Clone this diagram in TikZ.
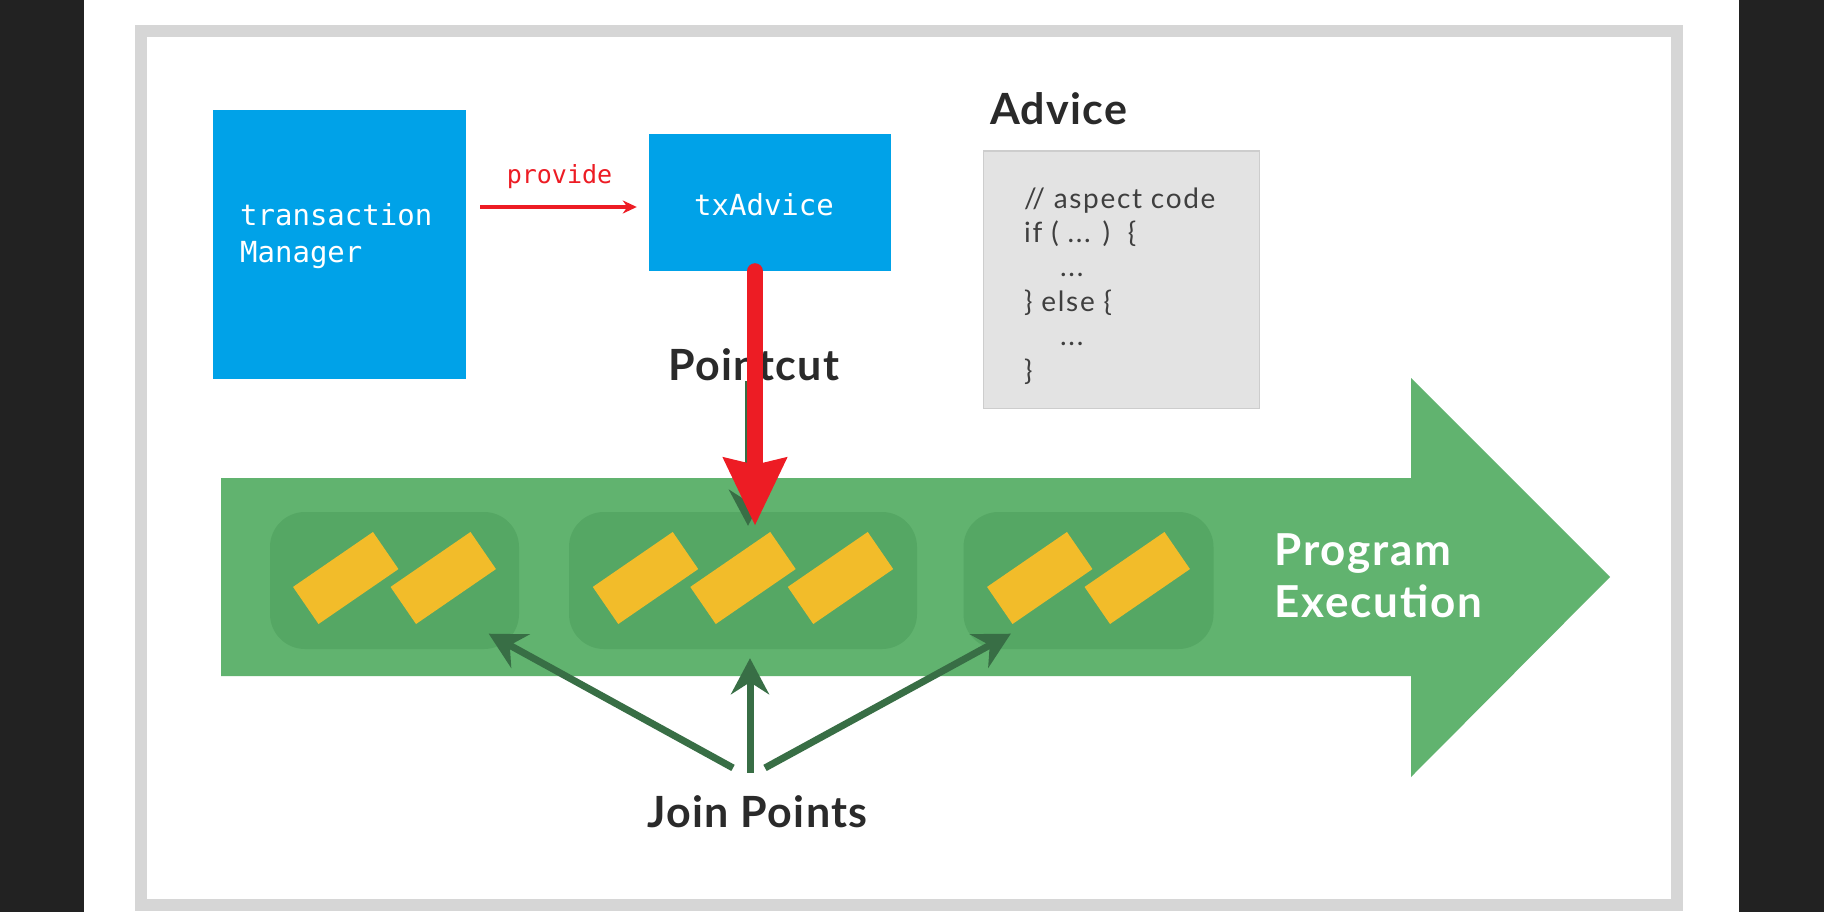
\documentclass[tikz,border=0pt]{standalone}
\usepackage{fontspec}
\setmainfont{Lato}
\newfontfamily\monofont{DejaVu Sans Mono}
\newfontfamily\titlefont[LetterSpace=3]{Lato}
\newfontfamily\codefont[LetterSpace=6]{Lato}
\usetikzlibrary{arrows.meta,positioning,calc}
\definecolor{txblue}{HTML}{00A2E8}
\definecolor{txred}{HTML}{ED1C24}
\definecolor{flowgreen}{HTML}{61B36F}
\definecolor{jpgreen}{HTML}{55A764}
\definecolor{jparrow}{HTML}{386E45}
\definecolor{jpyellow}{HTML}{F2BC2A}
\definecolor{codegray}{HTML}{E3E3E3}
\definecolor{codeline}{HTML}{CDCDCD}
\definecolor{framegray}{HTML}{D6D6D6}
\definecolor{sidedark}{HTML}{222222}
\definecolor{titletext}{HTML}{2A2A2A}
\tikzset{
  bluebox/.style={fill=txblue, inner sep=0pt},
  monolabel/.style={font=\monofont\fontsize{29}{37}\selectfont, text=white, inner sep=0pt},
  jpbox/.style={fill=jpgreen, rounded corners=35pt, minimum height=137pt, inner sep=0pt},
  jpmark/.style={fill=jpyellow, minimum width=97pt, minimum height=45pt, inner sep=0pt, rotate=34.5},
  title/.style={font=\titlefont\bfseries\fontsize{43}{52}\selectfont, text=titletext, inner sep=0pt},
  jparr/.style={draw=jparrow, line width=7pt, -{Stealth[length=36pt,width=38pt,inset=12pt]}},
}

\begin{document}
\begin{tikzpicture}[x=1pt,y=-1pt]
        \useasboundingbox (0,0) rectangle (1824,912);
        \fill[sidedark] (0,0) rectangle (84,912);
        \fill[sidedark] (1739,0) rectangle (1824,912);
        \fill[white] (84,0) rectangle (1739,912);
        \draw[framegray, line width=12pt] (141,31) rectangle (1677,905);

        % spring side
        \node[bluebox, minimum width=253pt, minimum height=269pt] (manager) at (339.5,244.5) {};
        \node[monolabel, align=left, anchor=base west] (managertext) at (240,263) {transaction\\Manager};
        \node[bluebox, minimum width=242pt, minimum height=137pt] (txadvice) at (770,202.5) {};
        \node[monolabel, anchor=base] (txadvicetext) at (764,216) {txAdvice};
        \draw[txred, line width=3.5pt, -{Stealth[length=14pt,width=13pt]}] ([shift={(14,4.5)}]manager.east |- txadvice.west) -- ([shift={(-12,4.5)}]txadvice.west);
        \node[font=\monofont\fontsize{25}{30}\selectfont, text=txred, anchor=base, inner sep=0pt] (provide) at (559.5,184) {provide};

        % advice
        \node[title, anchor=base west] (advicetitle) at (990,125) {Advice};
        \node[draw=codeline, fill=codegray, line width=1.2pt, minimum width=276pt, minimum height=257pt, inner sep=0pt] (codebox) at (1121.3,279.6) {};
        \node[font=\codefont\fontsize{28}{34.4}\selectfont, text=titletext!90, align=left, anchor=base west, inner sep=0pt] (code) at (1024,380)
            {// aspect code\\if ( ... )\ \ \{\\\hspace*{36pt}...\\\} else \{\\\hspace*{36pt}...\\\}};

        \node[title, anchor=base] (pointcut) at (754,380) {Pointcut};

        % program execution
        \fill[flowgreen] (221,478) -- (1411,478) -- (1411,378) -- (1610,577) -- (1411,777) -- (1411,676) -- (221,676) -- cycle;
        \node[title, text=white, font=\titlefont\bfseries\fontsize{44}{52}\selectfont\addfontfeatures{LetterSpace=4}, align=left, anchor=base west] (program) at (1274.6,617) {Program\\Execution};

        \node[jpbox, minimum width=249pt] (group1) at (394.5,580.5) {};
        \node[jpbox, minimum width=348pt] (group2) at (743,580.5) {};
        \node[jpbox, minimum width=250pt] (group3) at (1088.5,580.5) {};
        \foreach \g/\n in {group1/2, group2/3, group3/2} {
            \foreach \i in {1,...,\n} {
                \node[jpmark] (\g-\i) at ($(\g.center)+({(\i-(\n+1)/2)*97.5},-2.5)$) {};
            }
        }

        \draw[jparr] ([xshift=-6pt]pointcut.south) -- ([shift={(5,14)}]group2.north);
        \draw[txred, line width=16pt, line cap=round, -{Stealth[length=67pt,width=61pt,inset=6pt]}] ([xshift=-15pt]txadvice.south) -- ([shift={(12,14)}]group2.north);

        % join points
        \node[title, anchor=base] (joinpoints) at (757.5,827) {Join Points};
        \draw[jparr] ([shift={(-24.5,-27)}]joinpoints.north) -- ([shift={(-30.5,-15.5)}]group1.south east);
        \draw[jparr] ([shift={(-7.5,-22)}]joinpoints.north) -- ([shift={(7,9)}]group2.south);
        \draw[jparr] ([shift={(7.5,-27)}]joinpoints.north) -- ([shift={(47.5,-15.5)}]group3.south west);
\end{tikzpicture}
\end{document}
